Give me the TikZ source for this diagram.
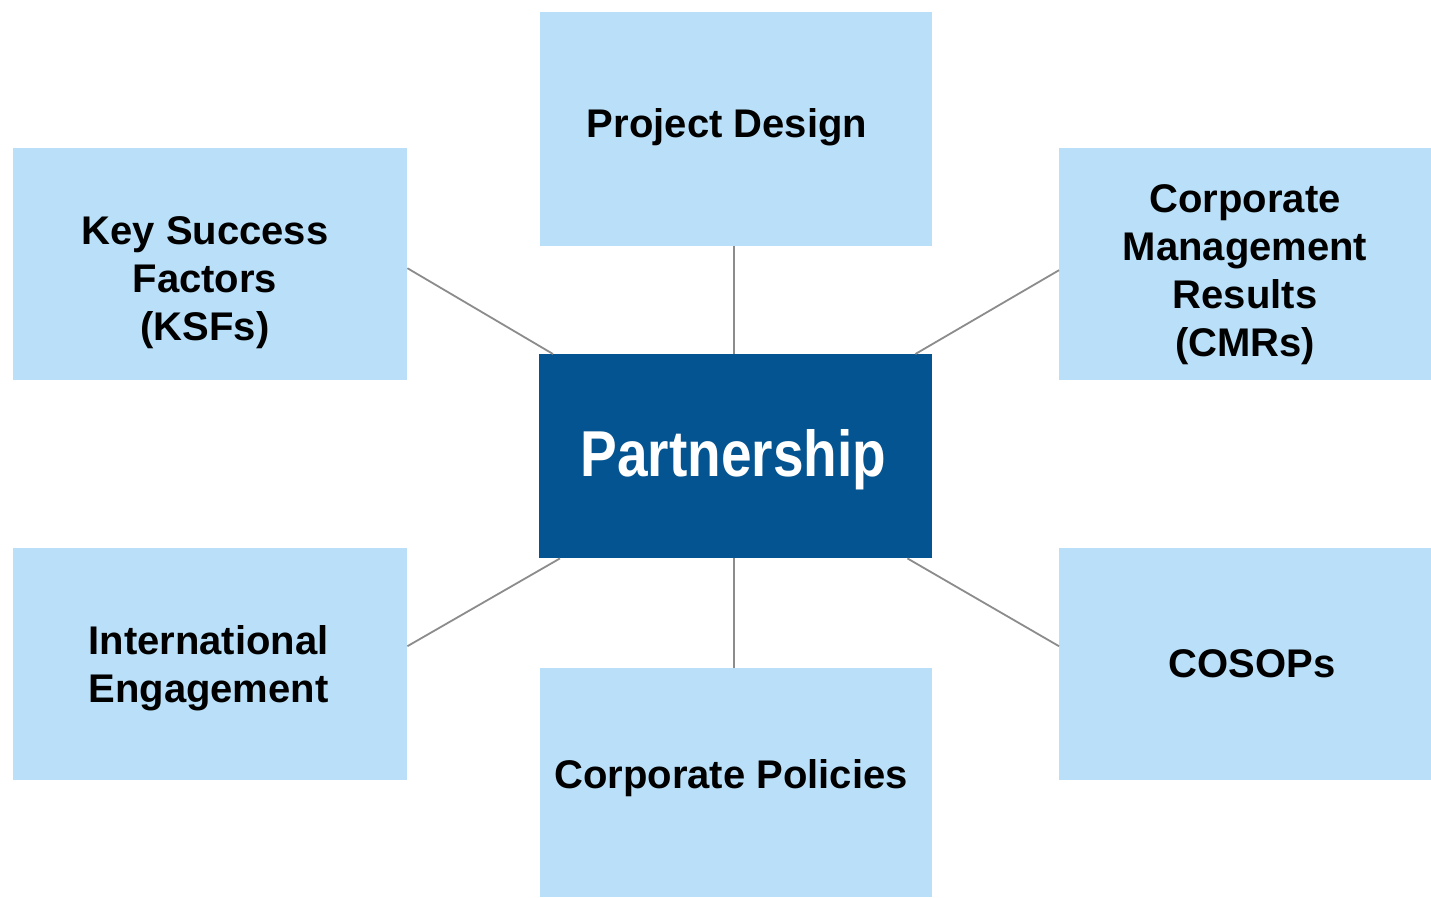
\documentclass[tikz,border=0pt]{standalone}
\usepackage{fontspec}
\setmainfont{Liberation Sans}
\usetikzlibrary{positioning}
\definecolor{boxblue}{RGB}{185,224,248}
\definecolor{coreblue}{RGB}{4,84,145}
\definecolor{linkgray}{RGB}{140,140,140}

\begin{document}
\begin{tikzpicture}[x=1pt,y=-1pt]
\tikzstyle{every node}+=[inner sep=0pt]
\tikzstyle{box}=[fill=boxblue, draw=none, anchor=north west]
\tikzstyle{lbl}=[font=\fontsize{40}{48}\selectfont\bfseries, align=center, text=black]
\tikzstyle{link}=[draw=linkgray, line width=1.8pt]
\useasboundingbox (0,0) rectangle (1431,897);
\fill [white] (0,0) rectangle (1431,897);
\node [box, minimum width=392pt, minimum height=234pt] (design) at (540,12) {};
\node [box, minimum width=394pt, minimum height=232pt] (ksf) at (13,148) {};
\node [box, minimum width=372pt, minimum height=232pt] (cmr) at (1059,148) {};
\node [box, fill=coreblue, minimum width=393pt, minimum height=204pt] (core) at (539,354) {};
\node [box, minimum width=394pt, minimum height=232pt] (intl) at (13,548) {};
\node [box, minimum width=372pt, minimum height=232pt] (cosop) at (1059,548) {};
\node [box, minimum width=392pt, minimum height=229pt] (policy) at (540,668) {};
\node [lbl] (design-t) at (727,127.5) {Project Design};
\node [lbl] (ksf-t) at (205,282.5) {Key Success\\Factors\\(KSFs)};
\node [lbl] (cmr-t) at (1245,275) {Corporate\\Management\\Results\\(CMRs)};
\node [lbl, text=white, font=\fontsize{55}{60}\selectfont\bfseries] (core-t) at (733.5,459.5) {\scalebox{1}[1.18]{Partnership}};
\node [lbl] (intl-t) at (208.5,668) {International\\Engagement};
\node [lbl] (cosop-t) at (1252,664) {COSOPs};
\node [lbl] (policy-t) at (731,778) {Corporate Policies};
\draw [link] ([yshift=-4pt]ksf.east) -- ([xshift=14pt]core.north west);
\draw [link] ([xshift=-2pt]design.south) -- ([xshift=-1.5pt]core.north);
\draw [link] ([yshift=-6pt]cmr.west) -- ([xshift=-17pt]core.north east);
\draw [link] ([yshift=18pt]intl.east) -- ([xshift=21pt]core.south west);
\draw [link] ([xshift=-2pt]policy.north) -- ([xshift=-1.5pt]core.south);
\draw [link] ([yshift=18pt]cosop.west) -- ([xshift=-25pt]core.south east);
\end{tikzpicture}
\end{document}
